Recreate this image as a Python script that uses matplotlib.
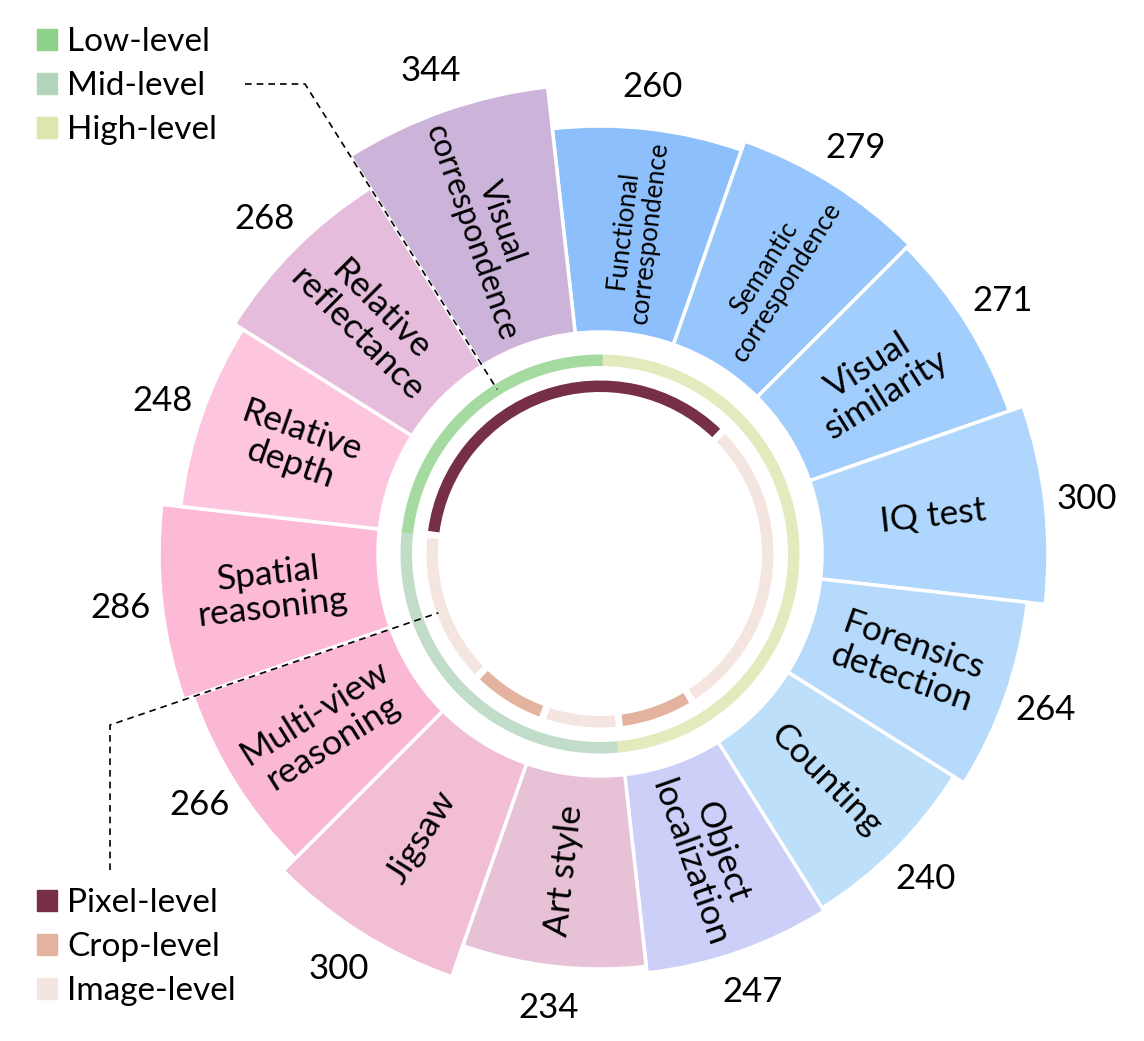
import numpy as np
import matplotlib
matplotlib.use('Agg')
import matplotlib.pyplot as plt
from matplotlib.patches import Patch
from matplotlib.lines import Line2D

plt.rcParams['font.family'] = ['Lato', 'DejaVu Sans']

# categories, clockwise starting just left of 12 o'clock
categories = ['Functional\ncorrespondence', 'Semantic\ncorrespondence', 'Visual\nsimilarity',
              'IQ test', 'Forensics\ndetection', 'Counting', 'Object\nlocalization',
              'Art style', 'Jigsaw', 'Multi-view\nreasoning', 'Spatial\nreasoning',
              'Relative\ndepth', 'Relative\nreflectance', 'Visual\ncorrespondence']
counts = [260, 279, 271, 300, 264, 240, 247, 234, 300, 266, 286, 248, 268, 344]
colors = ['#8cbffb', '#97c6fc', '#a2cefd', '#afd7fd', '#b5dafc', '#bddffa', '#cccff8',
          '#e7c2d6', '#f2bed6', '#fbb8d5', '#fdbad7', '#fdc5de', '#e5bcdc', '#cbb3da']

# outer ring: perception level (sized by number of samples)
level_names = ['Low-level', 'Mid-level', 'High-level']
level_colors = ['#8fd18a', '#b3d4bd', '#dce6ae']
level_order = ['High-level', 'Mid-level', 'Low-level']      # clockwise from top
level_samples = [1840, 1072, 895]

# inner ring: visual prompt type per category
prompt_names = ['Pixel-level', 'Crop-level', 'Image-level']
prompt_colors = ['#772f45', '#e4b3a0', '#f5e5e1']
category_prompt = ['Pixel-level', 'Pixel-level', 'Image-level', 'Image-level', 'Image-level',
                   'Image-level', 'Crop-level', 'Image-level', 'Crop-level', 'Image-level',
                   'Image-level', 'Pixel-level', 'Pixel-level', 'Pixel-level']

label_sizes = {'Functional\ncorrespondence': 18.5, 'Semantic\ncorrespondence': 18.5,
               'Visual\ncorrespondence': 23}

# geometry (radii in pixels)
W, H = 1144, 1041
CX, CY = 600, 554
RAX = 520
START = -6.4          # degrees, clockwise from top
R_IN = 222
R0, PX_PER = 298, 0.5  # radius of value 0 and pixels per sample

fig = plt.figure(figsize=(W / 100, H / 100), dpi=100)
ax = fig.add_axes([(CX - RAX) / W, (H - CY - RAX) / H, 2 * RAX / W, 2 * RAX / H],
                  projection='polar')
ax.set_theta_zero_location('N')
ax.set_theta_direction(-1)
ax.set_ylim(0, RAX)
ax.set_axis_off()

n = len(categories)
width = 360 / n
centers = START + width * (np.arange(n) + 0.5)
vals = np.array(counts)
outer = R0 + PX_PER * vals

ax.bar(np.deg2rad(centers), outer - R_IN, width=np.deg2rad(width), bottom=R_IN,
       color=colors, edgecolor='white', linewidth=2.5)

for c, lab, v, r_out in zip(centers, categories, counts, outer):
    m = (90 - c + 180) % 360 - 180
    rot = m + 180 if m < -90 else (m - 180 if m > 90 else m)
    ax.text(np.deg2rad(c), (R_IN + r_out) / 2, lab, rotation=rot, rotation_mode='anchor',
            ha='center', va='center', fontsize=label_sizes.get(lab, 25.5), linespacing=1.08)
    ax.text(np.deg2rad(c), r_out + 42, str(v), ha='center', va='center', fontsize=25)

# outer ring
tot = sum(level_samples)
a0 = 0.8
for name, s in zip(level_order, level_samples):
    span = 360 * s / tot
    ax.bar(np.deg2rad(a0 + span / 2), 11.5, width=np.deg2rad(span), bottom=188,
           color=level_colors[level_names.index(name)], alpha=0.8, linewidth=0)
    a0 += span

# inner ring: merge consecutive categories with the same prompt type
runs = []
for i, p in enumerate(category_prompt):
    if runs and runs[-1][0] == p:
        runs[-1][2] = i + 1
    else:
        runs.append([p, i, i + 1])
if len(runs) > 1 and runs[0][0] == runs[-1][0]:
    first = runs.pop(0)
    runs[-1][2] = n + first[2]
gap = 2.4
for p, i0, i1 in runs:
    t0 = START + i0 * width + gap / 2
    t1 = START + i1 * width - gap / 2
    ax.bar(np.deg2rad((t0 + t1) / 2), 11.5, width=np.deg2rad(t1 - t0), bottom=162,
           color=prompt_colors[prompt_names.index(p)], linewidth=0)

# legends
leg_kw = dict(loc='upper left', frameon=False, fontsize=24, handlelength=0.6,
              handleheight=0.6, handletextpad=0.3, labelspacing=0.42, borderpad=0,
              borderaxespad=0)
h1 = [Patch(color=c) for c in level_colors]
fig.legend(h1, level_names, bbox_to_anchor=(37 / W, 1 - 27 / H), **leg_kw)
h2 = [Patch(color=c) for c in prompt_colors]
fig.legend(h2, prompt_names, bbox_to_anchor=(37 / W, 1 - 888 / H), **leg_kw)

# dashed leader lines from the legends to the rings
def ring_point(theta_deg, r):
    x, y = ax.transData.transform((np.deg2rad(theta_deg), r))
    return x / W, y / H

p1 = ring_point(328, 194)
fig.add_artist(Line2D([245 / W, 305 / W, p1[0]], [1 - 84 / H, 1 - 84 / H, p1[1]],
                      color='black', linestyle=(0, (4, 3)), linewidth=1.2))
p2 = ring_point(250, 172)
fig.add_artist(Line2D([110 / W, 110 / W, p2[0]], [1 - 870 / H, 1 - 725 / H, p2[1]],
                      color='black', linestyle=(0, (4, 3)), linewidth=1.2))

fig.savefig('out.png', dpi=100)
